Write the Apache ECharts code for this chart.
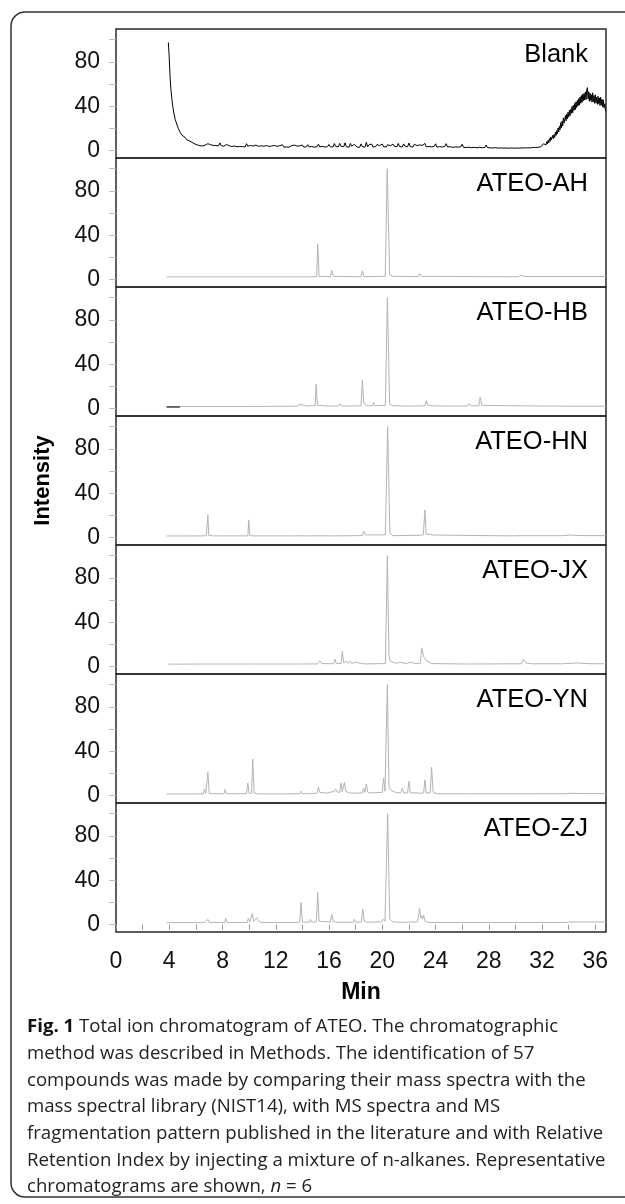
<!DOCTYPE html>
<html>
<head>
<meta charset="utf-8">
<script src="https://cdn.jsdelivr.net/npm/echarts@6/dist/echarts.min.js"></script>
<style>
html,body{margin:0;padding:0;background:#fff;}
#chart{width:625px;height:1204px;}
</style>
</head>
<body>
<div id="chart"></div>
<script>
// ---------- DATA ----------
const sampleNames = ['Blank', 'ATEO-AH', 'ATEO-HB', 'ATEO-HN', 'ATEO-JX', 'ATEO-YN', 'ATEO-ZJ'];
const xTickLabels = [0, 4, 8, 12, 16, 20, 24, 28, 32, 36];
const yTickValues = [0, 20, 40, 60, 80, 100];
const yLabelValues = [0, 40, 80];
const xTitle = 'Min';
const yTitle = 'Intensity';

// [retention time (min), relative intensity]
const blank = [
 [3.93,97.5],[3.98,88],[4.06,67],[4.12,56],[4.18,48.5],[4.26,40],[4.36,33],[4.45,28],[4.56,24],[4.68,20],
 [4.81,16.6],[4.95,14],[5.1,12.5],[5.18,12],[5.3,10],[5.45,9],[5.56,8.5],[5.7,7],[5.85,6.5],[6.0,6],[6.1,5.2],
 [6.2,5.6],[6.3,4.5],[6.4,5.1],[6.5,4.2],[6.6,5.9],[6.7,5.0],[6.8,4.4],[6.9,6.3],[7.0,4.7],[7.1,5.4],[7.2,4.1],[7.3,4.8],[7.4,6.0],[7.5,4.6],[7.6,5.2],[7.7,4.3],[7.8,7.0],[7.9,4.5],
 [8.0,5.3],[8.1,4.0],[8.2,4.9],[8.3,5.6],[8.4,3.9],[8.5,4.4],[8.6,5.1],[8.7,3.7],[8.8,4.6],[8.9,4.2],[9.0,5.3],[9.1,3.5],[9.2,4.1],[9.3,3.8],[9.4,5.5],[9.5,3.6],[9.6,4.3],[9.7,3.4],[9.8,6.3],[9.9,4.0],
 [10.0,3.6],[10.1,4.7],[10.2,3.3],[10.3,4.2],[10.4,3.7],[10.5,5.0],[10.6,3.2],[10.7,3.9],[10.8,3.1],[10.9,4.4],[11.0,3.6],[11.1,4.0],[11.2,3.0],[11.3,4.6],[11.4,3.4],[11.5,3.8],[11.6,3.1],[11.7,4.2],[11.8,3.5],[11.9,4.7],
 [12.0,3.0],[12.1,3.9],[12.2,3.3],[12.3,4.5],[12.4,3.6],[12.5,5.3],[12.6,3.2],[12.7,4.0],[12.8,3.4],[12.9,4.4],[13.0,3.1],[13.1,3.7],[13.2,4.6],[13.3,3.0],[13.4,5.0],[13.5,3.5],[13.6,4.1],[13.7,3.2],[13.8,4.3],[13.9,3.6],
 [14.0,5.1],[14.1,3.2],[14.2,4.0],[14.3,3.5],[14.4,5.4],[14.5,3.3],[14.6,4.5],[14.7,3.8],[14.8,4.6],[14.9,3.1],[15.0,4.2],[15.1,3.6],[15.2,5.9],[15.3,3.4],[15.4,4.8],[15.5,3.9],[15.6,5.0],[15.7,3.2],[15.8,4.4],[15.9,3.7],
 [16.0,5.6],[16.1,3.5],[16.2,4.9],[16.3,3.3],[16.4,6.4],[16.5,3.8],[16.6,4.6],[16.7,3.4],[16.8,6.6],[16.9,3.9],[17.0,5.2],[17.1,3.5],[17.2,7.1],[17.3,3.6],[17.4,5.4],[17.5,3.1],[17.6,6.5],[17.7,4.0],[17.8,3.0],[17.9,5.8],
 [18.0,7.4],[18.1,3.2],[18.2,4.8],[18.3,3.0],[18.4,6.1],[18.5,3.7],[18.6,5.0],[18.7,3.1],[18.8,7.5],[18.9,3.4],[19.0,5.3],[19.1,3.8],[19.2,6.0],[19.3,3.3],[19.4,4.9],[19.5,3.6],[19.6,5.6],[19.7,3.9],[19.8,4.5],[19.9,3.2],
 [20.0,6.0],[20.1,3.5],[20.2,5.0],[20.3,3.3],[20.4,5.4],[20.5,3.8],[20.6,4.4],[20.7,3.1],[20.8,5.9],[20.9,3.9],[21.0,5.2],[21.1,3.6],[21.2,6.5],[21.3,3.7],[21.4,5.5],[21.5,3.4],[21.6,6.1],[21.7,4.1],[21.8,5.0],[21.9,3.5],
 [22.0,6.9],[22.1,3.6],[22.2,5.1],[22.3,3.3],[22.4,5.7],[22.5,3.9],[22.6,4.6],[22.7,3.2],[22.8,5.2],[22.9,3.5],[23.0,4.7],[23.1,3.6],[23.2,6.5],[23.3,3.4],[23.4,5.0],[23.5,3.8],[23.6,5.6],[23.7,3.4],[23.8,4.6],[23.9,3.9],
 [24.0,6.2],[24.1,3.2],[24.2,4.5],[24.3,3.6],[24.4,5.1],[24.5,3.3],[24.6,4.2],[24.7,3.9],[24.8,6.3],[24.9,3.3],[25.0,4.4],[25.1,3.5],[25.2,5.0],[25.3,3.0],[25.4,4.1],[25.5,3.4],[25.6,4.8],[25.7,3.2],[25.8,4.0],[25.9,3.6],
 [26.0,5.8],[26.1,3.0],[26.2,3.6],[26.3,2.8],[26.4,4.3],[26.5,3.1],[26.6,3.5],[26.7,2.7],[26.8,4.0],[26.9,3.0],[27.0,3.4],[27.1,2.6],[27.2,3.9],[27.3,3.1],[27.4,3.3],[27.5,2.7],[27.6,3.7],[27.7,2.9],[27.8,5.1],[27.9,2.7],
 [28.0,3.2],[28.1,2.6],[28.2,3.6],[28.3,2.4],[28.4,3.0],[28.5,2.7],[28.6,3.4],[28.7,2.3],[28.8,2.9],[28.9,2.5],[29.0,3.4],[29.1,2.3],[29.2,2.8],[29.3,2.4],[29.4,3.5],[29.5,2.2],[29.6,2.9],[29.7,2.5],[29.8,3.2],[29.9,2.2],
 [30.0,2.7],[30.1,2.4],[30.2,3.4],[30.3,2.3],[30.4,2.9],[30.5,2.5],[30.6,3.8],[30.7,2.4],[30.8,2.8],[30.9,2.6],[31.0,3.3],[31.1,2.5],[31.2,3.4],[31.3,2.9],[31.4,4.2],[31.5,2.8],[31.6,3.6],[31.7,3.1],[31.8,4.7],[31.9,3.4],
 [32.0,4.2],[32.05,4.8],[32.1,6.2],[32.15,4.4],[32.2,5.9],[32.25,7.4],[32.3,5.2],[32.35,8.1],[32.4,6.0],[32.45,9.2],[32.5,7.1],[32.55,10.8],[32.6,8.4],[32.65,12.4],[32.7,9.6],[32.75,11.3],[32.8,13.8],[32.85,10.9],[32.9,14.5],[32.95,12.0],
 [33.0,16.6],[33.05,13.7],[33.1,17.9],[33.15,15.2],[33.2,20.4],[33.25,16.8],[33.3,22.0],[33.35,18.9],[33.4,25.2],[33.45,20.6],[33.5,26.7],[33.55,22.3],[33.6,29.5],[33.65,24.8],[33.7,28.1],[33.75,31.6],[33.8,26.9],[33.85,33.0],[33.9,28.7],[33.95,34.6],
 [34.0,30.2],[34.05,36.4],[34.1,31.5],[34.15,37.2],[34.2,33.6],[34.25,39.8],[34.3,34.1],[34.35,40.9],[34.4,36.3],[34.45,42.6],[34.5,37.0],[34.55,44.1],[34.6,38.8],[34.65,45.3],[34.7,40.2],[34.75,46.8],[34.8,41.0],[34.85,48.4],[34.9,42.7],[34.95,49.6],
 [35.0,43.5],[35.05,50.8],[35.1,44.9],[35.15,51.5],[35.2,45.6],[35.25,52.9],[35.3,46.1],[35.35,54.0],[35.4,56.8],[35.45,46.7],[35.5,53.2],[35.55,44.5],[35.6,51.8],[35.65,45.2],[35.7,50.4],[35.75,43.8],[35.8,52.1],[35.85,44.0],[35.9,49.7],[35.95,42.6],
 [36.0,50.3],[36.05,43.1],[36.1,48.2],[36.15,41.7],[36.2,49.0],[36.25,42.4],[36.3,47.5],[36.35,40.6],[36.4,48.1],[36.45,41.0],[36.5,46.3],[36.55,39.4],[36.6,45.8],[36.65,38.7],[36.7,42.2],[36.75,36.9],[36.8,35.5]
];

const ateoAH = [
 [3.8,2.5],[6.3,2.5],[6.44,3],[6.55,2.5],[10.1,2.5],[10.2,3],[10.3,2.5],[14.45,2.5],[14.6,3.5],[14.75,2.6],
 [15.07,2.8],[15.15,32],[15.25,3],[16.1,2.6],[16.2,8.5],[16.32,3],[18.4,2.6],[18.5,8],[18.62,2.8],
 [20.22,3],[20.37,100],[20.55,4.5],[20.8,3],[22.7,2.8],[22.8,5.5],[22.95,3],[30.2,2.6],[30.4,4],[30.7,2.8],[36.8,2.8]
];

const ateoHBStart = [[3.8,1.6],[4.8,1.6]];
const ateoHB = [
 [3.8,2],[6.0,2],[6.06,2.6],[6.12,2],[7.8,2],[7.85,2.5],[7.9,2],[9.85,2],[9.9,2.6],[9.97,2],
 [13.65,2.2],[13.75,4.2],[13.85,2.5],[14.3,2.4],[14.4,4],[14.48,2.5],[14.55,2.8],[14.62,3.2],[14.75,2.6],
 [14.95,2.8],[15.03,21.8],[15.13,3],[16.05,2.3],[16.15,3.5],[16.25,2.3],[16.7,2.4],[16.8,4.5],[16.9,2.5],
 [17.25,2.4],[17.32,3.2],[17.4,2.3],[18.4,2.5],[18.5,25.5],[18.6,6],[18.7,5],[18.8,2.8],[19.25,2.6],[19.35,5.7],[19.45,2.6],
 [20.23,3],[20.38,100],[20.55,4],[20.8,2.6],[22.05,2.3],[22.1,3],[22.2,2.4],[23.2,2.6],[23.3,7.3],[23.42,3],
 [23.75,2.5],[23.82,3.2],[23.9,2.3],[26.4,2.3],[26.5,4.5],[26.62,2.5],[27.25,2.6],[27.35,10.3],[27.48,3],
 [30.65,2.5],[30.8,4.2],[31.0,2.5],[34.5,2.2],[34.6,3],[34.7,2.2],[36.8,2.2]
];

const ateoHN = [
 [3.8,1.5],[6.45,1.6],[6.56,2.5],[6.62,1.8],[6.7,3.5],[6.78,1.8],[6.86,1.8],[6.9,20.6],[6.97,2],[7.1,1.6],
 [7.25,1.7],[7.35,2.2],[7.45,1.6],[8.0,1.6],[8.06,2.4],[8.12,1.6],[9.9,1.6],[9.97,16],[10.05,1.9],[10.15,2],[10.2,3],[10.28,1.6],
 [13.1,1.6],[13.2,2.5],[13.3,1.6],[13.5,1.7],[13.6,3.2],[13.7,1.7],[14.5,1.6],[14.6,2.4],[14.7,1.6],[15.1,1.7],[15.2,2.6],[15.3,1.7],
 [16.2,1.6],[16.3,2.4],[16.4,1.6],[16.6,1.7],[16.7,2.2],[16.8,1.6],[18.5,1.9],[18.6,6],[18.72,2.5],[18.85,2],
 [20.23,2.5],[20.4,100],[20.57,4],[20.8,1.8],[22.85,2.2],[22.97,3.8],[23.08,2.5],[23.2,25],[23.3,3],[23.45,2],[23.6,3],[23.7,1.8],
 [23.8,2.4],[23.9,1.7],[29.7,1.6],[29.8,2.2],[29.9,1.7],[30.35,1.8],[30.5,2.8],[30.7,1.8],[33.5,1.8],[34.1,2.4],[34.8,1.9],[36.8,1.8]
];

const ateoJX = [
 [3.93,2.3],[5.1,2.3],[5.2,2.9],[5.3,2.3],[6.45,2.4],[6.56,4],[6.68,2.4],[9.95,2.4],[10.07,3.6],[10.18,2.4],
 [13.7,2.4],[13.8,3.2],[13.9,2.4],[15.15,2.5],[15.3,5.4],[15.45,2.8],[16.35,2.6],[16.45,6.8],[16.55,2.8],
 [16.9,2.8],[17.0,13.8],[17.1,3.5],[17.3,5],[17.42,3],[17.6,5],[17.7,2.8],[17.97,4],[18.1,2.6],[18.6,2.6],[18.7,4],[18.8,2.5],
 [20.23,2.8],[20.38,100],[20.5,10],[20.6,5],[20.8,4],[21.1,3],[21.3,4],[21.4,3],[21.8,2.8],[22.1,4],[22.2,2.8],
 [22.4,3],[22.5,4],[22.6,2.8],[22.85,3],[22.97,17],[23.1,9],[23.2,9],[23.35,5],[23.5,5],[23.7,2.8],
 [26.3,2.4],[26.4,3.3],[26.5,2.4],[30.45,2.6],[30.6,6.8],[30.8,3.4],[31.2,2.6],[33.5,2.6],[34.6,3.3],[35.6,2.7],[36.8,2.6]
];

const ateoYN = [
 [3.8,1.5],[6.55,1.6],[6.64,6],[6.74,2],[6.9,21],[7.0,2],[7.25,1.8],[7.3,3],[7.38,1.6],[8.12,1.7],[8.2,5.7],[8.3,1.8],
 [9.8,1.8],[9.9,11.4],[10.0,2],[10.18,2.2],[10.27,33],[10.37,2.4],[10.45,2],[10.5,3],[10.6,1.6],[12.75,1.6],[12.8,2.4],[12.85,1.6],
 [13.8,1.7],[13.9,4],[14.0,1.8],[14.5,1.8],[14.6,3],[14.7,1.9],[15.1,2.2],[15.2,7.8],[15.32,2.8],[15.9,2.4],
 [16.2,3.5],[16.3,5],[16.4,3.6],[16.5,6],[16.6,3.4],[16.8,3],[16.9,11.4],[17.0,3.5],[17.15,12],[17.25,4],[17.4,5],[17.5,2.5],
 [18.05,2.2],[18.1,3],[18.2,2.4],[18.5,2.6],[18.6,6.9],[18.7,3],[18.8,10.5],[18.9,3.4],[19.0,4],[19.1,2.4],
 [20.0,3],[20.1,16],[20.2,4],[20.27,3.5],[20.38,100],[20.5,8],[20.7,4.5],[21.0,3],[21.4,2.6],[21.5,6.7],[21.62,2.4],
 [21.9,2.5],[22.0,13],[22.1,2.6],[22.7,2.5],[22.8,3.5],[22.9,2.2],[23.1,2.5],[23.2,14.4],[23.3,2.5],[23.6,2.5],[23.7,25.5],[23.82,3],
 [24.1,1.7],[26.2,1.7],[26.3,2.8],[26.4,1.7],[30.35,1.7],[30.5,2.6],[30.7,1.7],[33.8,1.8],[34.3,2.2],[35.0,1.9],[36.8,1.8]
];

const ateoZJ = [
 [3.8,1.8],[6.35,1.8],[6.44,3],[6.52,2.2],[6.6,3.5],[6.68,2],[6.82,2],[6.9,4.8],[7.0,2],[8.15,1.9],[8.24,5.7],[8.33,2],
 [9.85,2],[9.94,5.7],[10.04,2.4],[10.14,2.6],[10.24,10],[10.34,3],[10.48,3.5],[10.57,6.3],[10.68,3.5],[10.77,4],[10.9,2],
 [13.5,2],[13.57,3],[13.65,2.2],[13.8,2.2],[13.9,19.8],[14.0,2.5],[14.5,2.2],[14.6,4.8],[14.7,2.3],[15.05,2.4],[15.15,29],[15.25,3],
 [16.1,2.4],[16.2,9.3],[16.32,3],[16.5,2.4],[16.6,3.2],[16.7,2.2],[17.05,2.2],[17.15,3.6],[17.25,2.2],[17.8,2.2],[17.9,4.8],[18.0,2.2],
 [18.43,2.4],[18.53,14],[18.65,3],[18.9,2.2],[19.95,2.6],[20.08,5],[20.2,3],[20.27,4],[20.4,100],[20.56,5],[20.8,2.5],
 [21.4,2.2],[21.5,2.8],[21.6,2.2],[21.9,2.2],[22.0,3.2],[22.1,2.2],[22.65,2.6],[22.8,14.7],[22.9,6],[22.97,8],[23.03,5],[23.1,8.7],[23.22,3],
 [23.5,2],[26.2,1.9],[26.3,2.4],[26.4,1.9],[29.75,1.9],[29.85,2.4],[29.95,1.9],[30.25,2],[30.4,3],[30.6,2],[33.8,2],[34.0,2.4],[36.8,2.4]
];

const caption = [
 ['Fig. 1', ' Total ion chromatogram of ATEO. The chromatographic'],
 ['', 'method was described in Methods. The identification of 57'],
 ['', 'compounds was made by comparing their mass spectra with the'],
 ['', 'mass spectral library (NIST14), with MS spectra and MS'],
 ['', 'fragmentation pattern published in the literature and with Relative'],
 ['', 'Retention Index by injecting a mixture of n-alkanes. Representative'],
 ['', 'chromatograms are shown, {i|n} = 6']
];

// ---------- LAYOUT ----------
const traces = [blank, ateoAH, ateoHB, ateoHN, ateoJX, ateoYN, ateoZJ];
const plotLeft = 116, plotRight = 606, firstTop = 29, panelH = 129;
const W = 625;
const font = "'Liberation Sans', Arial, sans-serif";
const capFont = "'Open Sans', sans-serif";
const capSize = 18.6;

const grids = [], xAxes = [], yAxes = [], series = [], graphics = [];
traces.forEach((tr, i) => {
  const last = i === traces.length - 1;
  grids.push({
    left: plotLeft, right: W - plotRight, top: firstTop + i * panelH, height: panelH,
    show: true, borderColor: '#2a2a2a', borderWidth: 1.5, backgroundColor: 'transparent'
  });
  xAxes.push({
    gridIndex: i, type: 'value', min: 0, max: 36.8, interval: 2,
    axisLine: { show: false },
    splitLine: { show: false },
    axisTick: { show: last, length: 5, lineStyle: { color: '#999', width: 1 } },
    axisLabel: {
      show: last, margin: 18, color: '#111', fontSize: 23, fontFamily: font,
      showMaxLabel: false,
      formatter: v => (xTickLabels.indexOf(v) >= 0 ? String(v) : '')
    }
  });
  yAxes.push({
    gridIndex: i, type: 'value', min: -6.6, max: 109.6,
    axisLine: { show: false },
    splitLine: { show: false },
    axisTick: { show: true, length: 7, customValues: yTickValues, lineStyle: { color: '#bbb', width: 1 } },
    axisLabel: { show: true, customValues: yLabelValues, margin: 16, color: '#111', fontSize: 23, fontFamily: font }
  });
  series.push({
    type: 'line', xAxisIndex: i, yAxisIndex: i, data: tr, showSymbol: false, symbol: 'none',
    lineStyle: { color: i === 0 ? '#000' : '#b4b4b4', width: 1 }, animation: false, silent: true, z: 2
  });
  graphics.push({
    type: 'text', x: plotRight - 18, y: firstTop + i * panelH + 26,
    style: { text: sampleNames[i], fill: '#000', font: '25.5px ' + font, textAlign: 'right', textVerticalAlign: 'middle' }
  });
});
series.push({
  type: 'line', xAxisIndex: 2, yAxisIndex: 2, data: ateoHBStart, showSymbol: false, symbol: 'none',
  lineStyle: { color: '#444', width: 1.5 }, animation: false, silent: true, z: 3
});

// axis titles
graphics.push({
  type: 'text', x: 43, y: firstTop + panelH * traces.length / 2, rotation: Math.PI / 2,
  style: { text: yTitle, fill: '#000', font: 'bold 22px ' + font, textAlign: 'center', textVerticalAlign: 'middle' }
});
graphics.push({
  type: 'text', x: (plotLeft + plotRight) / 2, y: 993,
  style: { text: xTitle, fill: '#000', font: 'bold 23px ' + font, textAlign: 'center', textVerticalAlign: 'middle' }
});

// outer rounded frame
graphics.push({
  type: 'rect', shape: { x: 11, y: 12, width: 650, height: 1185, r: 14 },
  style: { fill: 'none', stroke: '#333', lineWidth: 1.5 }, z: -1
});

// caption
caption.forEach((ln, k) => {
  const txt = (ln[0] ? '{b|' + ln[0] + '}' : '') + ln[1];
  graphics.push({
    type: 'text', x: 27, y: 1027 + k * 26.7,
    style: {
      text: txt, fill: '#222', fontSize: capSize, fontFamily: capFont,
      textAlign: 'left', textVerticalAlign: 'middle',
      rich: {
        b: { fontWeight: 'bold', fontSize: capSize, fontFamily: capFont, fill: '#111' },
        i: { fontStyle: 'italic', fontSize: capSize, fontFamily: capFont, fill: '#222' }
      }
    }
  });
});

const chart = echarts.init(document.getElementById('chart'), null, { renderer: 'canvas' });
chart.setOption({
  animation: false,
  backgroundColor: '#fff',
  grid: grids, xAxis: xAxes, yAxis: yAxes, series: series,
  graphic: graphics
});
</script>
</body>
</html>
